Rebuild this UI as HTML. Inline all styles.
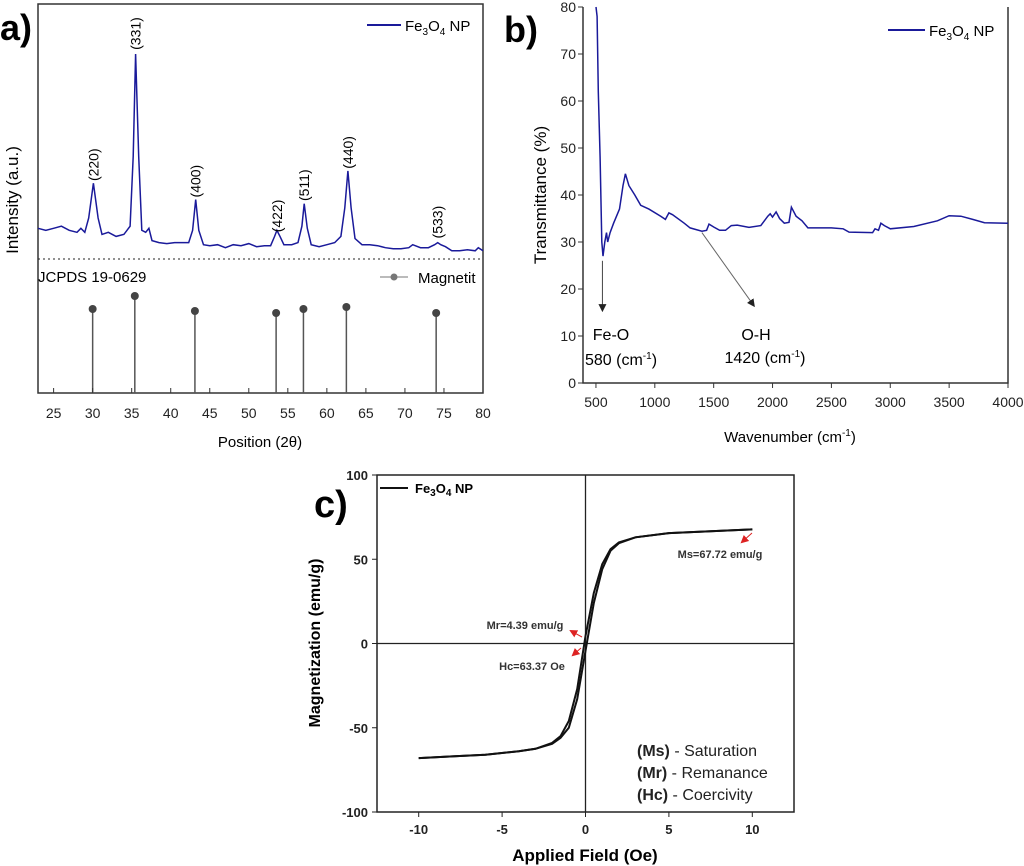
<!DOCTYPE html>
<html><head><meta charset="utf-8"><style>
html,body{margin:0;padding:0;background:#fff;}
svg{display:block;font-family:"Liberation Sans",Arial,sans-serif;}
</style></head><body>
<svg id="fig" width="1024" height="866" viewBox="0 0 1024 866">
<defs>
<marker id="ah" markerWidth="8" markerHeight="8" refX="6" refY="4" orient="auto"><path d="M0,0 L8,4 L0,8 z" fill="#222"/></marker>
<marker id="ahr" markerWidth="8" markerHeight="8" refX="6" refY="4" orient="auto"><path d="M0,0 L8,4 L0,8 z" fill="#d22"/></marker>
</defs>
<g id="pa"></g>
<g id="pb"></g>
<g id="pc"></g>
</svg>
<script>
// ---- Panel a data (XRD) ----
const xrdX=[23,24,25,26,27,28,28.5,29,29.5,30.1,30.7,31.2,32,33,34,34.8,35.2,35.5,35.9,36.3,36.8,37.2,37.6,38.5,39.5,40.5,41.5,42.3,42.8,43.2,43.6,44.2,45,46,47,48,49,50,51,52,52.8,53.3,53.6,54,54.5,55.5,56.3,56.8,57.1,57.5,58,59,60,61,61.8,62.3,62.7,63.1,63.6,64.5,65.5,66.5,67.5,68.5,69.5,70.5,71,72,73,73.8,74.2,74.6,75.2,76,77,78,79,79.4,80];
const xrdI=[15,14,15,16,14,13,15,13,20,37,20,12,13,11,12,16,50,100,50,14,13,15,9,8,7.5,8,8,8,14,29,14,7,6.5,7,5.5,7,6.5,7.5,6,6.5,6.5,11,14,11,7,7,8,16,27,15,7,6,7,8,11,25,43,25,10,7,7,6.5,5.5,5,5,5.5,7,5.5,5.5,7,8,7,6,4,4,4.5,4,5.5,4];
const hklPos=[30.1,35.5,43.2,53.6,57.1,62.7,74.2];
const hklLabels=["(220)","(331)","(400)","(422)","(511)","(440)","(533)"];
const hklLabelI=[46,110,38,21,36,52,18];
const refPos=[30,35.4,43.1,53.5,57,62.5,74];
const refI=[84,97,82,80,84,86,80];
const aXTicks=[25,30,35,40,45,50,55,60,65,70,75,80];
// ---- Panel b data (FTIR) ----
const ftX=[500,510,520,535,550,560,575,590,600,620,650,700,730,750,780,830,880,950,1050,1090,1120,1150,1250,1300,1400,1440,1460,1500,1550,1600,1650,1700,1800,1900,1960,1980,2000,2030,2060,2100,2140,2160,2200,2250,2300,2500,2600,2650,2850,2870,2900,2920,2950,3000,3200,3400,3500,3600,3700,3800,4000];
const ftT=[80,78,62,48,30,27,30,32,30,32,34,37,42,44.5,42,40,37.8,37,35.5,34.8,36.2,35.8,34,33,32.3,32.5,33.8,33.2,32.5,32.5,33.5,33.6,33.1,33.5,35.5,36,35.3,36.4,35,34,34.2,37.4,35.5,34.5,33,33,32.8,32.1,32,32.8,32.5,34,33.5,32.8,33.3,34.5,35.6,35.5,34.8,34.1,34];
const bXTicks=[500,1000,1500,2000,2500,3000,3500,4000];
const bYTicks=[0,10,20,30,40,50,60,70,80];
// ---- Panel c data (VSM hysteresis) ----
const hUp=[-10,-8,-6,-4,-3,-2,-1.5,-1,-0.5,0,0.5,1,1.5,2,3,5,8,10];
const mUp=[-68,-67,-66,-64,-62.5,-59,-55,-46,-27,4.4,30,47,56,60,63,65.5,66.8,67.7];
const hDn=[-10,-8,-6,-4,-3,-2,-1.5,-1,-0.5,0,0.5,1,1.5,2,3,5,8,10];
const mDn=[-68,-67,-66,-64,-62.5,-59.5,-56,-50,-33,-4.4,24,44,55,59.5,63,65.5,66.8,67.7];
const cXTicks=[-10,-5,0,5,10];
const cYTicks=[-100,-50,0,50,100];

const NS="http://www.w3.org/2000/svg";
function mk(parent,tag,attrs,text){const e=document.createElementNS(NS,tag);for(const k in attrs)e.setAttribute(k,attrs[k]);if(text!==undefined)e.textContent=text;parent.appendChild(e);return e;}
function lin(d0,d1,r0,r1){return v=>r0+(v-d0)*(r1-r0)/(d1-d0);}
function pathFrom(xs,ys,sx,sy){return xs.map((x,i)=>(i?'L':'M')+sx(x).toFixed(1)+','+sy(ys[i]).toFixed(1)).join(' ');}

// ===== Panel a =====
const A=document.getElementById('pa');
const ax=lin(23,80,38,483), ay=v=>259-v*2.05, ayRef=v=>393-v*1.0;
let t;
t=mk(A,'text',{x:0,y:40,'font-size':36,'font-weight':'bold'},'a)');

t=mk(A,'rect',{x:38,y:4,width:445,height:389,fill:'none',stroke:'#333','stroke-width':1.5});

t=mk(A,'line',{x1:38,y1:259,x2:483,y2:259,stroke:'#222','stroke-dasharray':'2,3'});

t=mk(A,'path',{d:pathFrom(xrdX,xrdI,ax,ay),fill:'none',stroke:'#1a1a9a','stroke-width':1.5});

hklPos.forEach((p,i)=>{const x=ax(p)+5,y=ay(hklLabelI[i]);
 const e=mk(A,'text',{x:x,y:y,'font-size':14,transform:`rotate(-90 ${x} ${y})`,'text-anchor':'middle'},hklLabels[i]);
 });
refPos.forEach((p,i)=>{
 const l=mk(A,'line',{x1:ax(p),y1:393,x2:ax(p),y2:ayRef(refI[i]),stroke:'#555','stroke-width':1.5});
 
 const c=mk(A,'circle',{cx:ax(p),cy:ayRef(refI[i]),r:4,fill:'#444'});
 });
aXTicks.forEach(v=>{mk(A,'line',{x1:ax(v),y1:393,x2:ax(v),y2:388,stroke:'#333'});
 const e=mk(A,'text',{x:ax(v),y:418,'font-size':14,'text-anchor':'middle',fill:'#222'},v);
 });
t=mk(A,'text',{x:260,y:447,'font-size':15,'text-anchor':'middle'},'Position (2θ)');

t=mk(A,'text',{x:18,y:200,'font-size':17,'text-anchor':'middle',transform:'rotate(-90 18 200)'},'Intensity (a.u.)');

t=mk(A,'text',{x:38,y:282,'font-size':15},'JCPDS 19-0629');

let lg=mk(A,'g',{});
mk(lg,'line',{x1:380,y1:277,x2:408,y2:277,stroke:'#777'});mk(lg,'circle',{cx:394,cy:277,r:3.5,fill:'#777'});
mk(lg,'text',{x:418,y:283,'font-size':15},'Magnetit');
lg=mk(A,'g',{});
mk(lg,'line',{x1:367,y1:25,x2:401,y2:25,stroke:'#1a1a9a','stroke-width':2});
t=mk(lg,'text',{x:405,y:31,'font-size':15});t.innerHTML='Fe<tspan font-size="10" dy="4">3</tspan><tspan dy="-4">O</tspan><tspan font-size="10" dy="4">4</tspan><tspan dy="-4"> NP</tspan>';

// ===== Panel b =====
const B=document.getElementById('pb');
const bx=lin(390,4000,583,1008), by=lin(0,80,383,7);
t=mk(B,'text',{x:504,y:42,'font-size':36,'font-weight':'bold'},'b)');

t=mk(B,'path',{d:'M583,7 L583,383 L1008,383 L1008,7',fill:'none',stroke:'#333','stroke-width':1.5});

t=mk(B,'path',{d:pathFrom(ftX,ftT,bx,by),fill:'none',stroke:'#1a1a9a','stroke-width':1.5});

bXTicks.forEach(v=>{mk(B,'line',{x1:bx(v),y1:383,x2:bx(v),y2:388,stroke:'#333'});
 const e=mk(B,'text',{x:bx(v),y:407,'font-size':14,'text-anchor':'middle',fill:'#222'},v);
 });
bYTicks.forEach(v=>{mk(B,'line',{x1:583,y1:by(v),x2:578,y2:by(v),stroke:'#333'});
 const e=mk(B,'text',{x:576,y:by(v)+5,'font-size':14,'text-anchor':'end',fill:'#222'},v);
 });
t=mk(B,'text',{x:790,y:442,'font-size':15,'text-anchor':'middle'});t.innerHTML='Wavenumber (cm<tspan font-size="10" dy="-6">-1</tspan><tspan dy="6">)</tspan>';

t=mk(B,'text',{x:546,y:195,'font-size':17,'text-anchor':'middle',transform:'rotate(-90 546 195)'},'Transmittance (%)');

t=mk(B,'line',{x1:bx(555),y1:by(26),x2:bx(555),y2:by(15.5),stroke:'#444','marker-end':'url(#ah)'});

t=mk(B,'line',{x1:bx(1400),y1:by(32),x2:bx(1840),y2:by(16.5),stroke:'#666','marker-end':'url(#ah)'});

t=mk(B,'text',{x:611,y:340,'font-size':16,'text-anchor':'middle'},'Fe-O');

t=mk(B,'text',{x:621,y:365,'font-size':16,'text-anchor':'middle'});t.innerHTML='580 (cm<tspan font-size="10" dy="-6">-1</tspan><tspan dy="6">)</tspan>';

t=mk(B,'text',{x:756,y:340,'font-size':16,'text-anchor':'middle'},'O-H');

t=mk(B,'text',{x:765,y:363,'font-size':16,'text-anchor':'middle'});t.innerHTML='1420 (cm<tspan font-size="10" dy="-6">-1</tspan><tspan dy="6">)</tspan>';

lg=mk(B,'g',{});
mk(lg,'line',{x1:888,y1:30,x2:925,y2:30,stroke:'#1a1a9a','stroke-width':2});
t=mk(lg,'text',{x:929,y:36,'font-size':15});t.innerHTML='Fe<tspan font-size="10" dy="4">3</tspan><tspan dy="-4">O</tspan><tspan font-size="10" dy="4">4</tspan><tspan dy="-4"> NP</tspan>';

// ===== Panel c =====
const C=document.getElementById('pc');
const cx=lin(-12.5,12.5,377,794), cy=lin(-100,100,812,475);
t=mk(C,'rect',{x:377,y:475,width:417,height:337,fill:'none',stroke:'#222','stroke-width':1.5});

mk(C,'line',{x1:377,y1:cy(0),x2:794,y2:cy(0),stroke:'#222','stroke-width':1.3});
mk(C,'line',{x1:cx(0),y1:475,x2:cx(0),y2:812,stroke:'#222','stroke-width':1.3});
t=mk(C,'text',{x:314,y:517,'font-size':38,'font-weight':'bold'},'c)');

t=mk(C,'path',{d:pathFrom(hUp,mUp,cx,cy),fill:'none',stroke:'#111','stroke-width':2});

t=mk(C,'path',{d:pathFrom(hDn,mDn,cx,cy),fill:'none',stroke:'#111','stroke-width':2});

cXTicks.forEach(v=>{mk(C,'line',{x1:cx(v),y1:812,x2:cx(v),y2:817,stroke:'#222'});
 const e=mk(C,'text',{x:cx(v),y:834,'font-size':13,'font-weight':'bold','text-anchor':'middle',fill:'#222'},v);
 });
cYTicks.forEach(v=>{mk(C,'line',{x1:377,y1:cy(v),x2:372,y2:cy(v),stroke:'#222'});
 const e=mk(C,'text',{x:368,y:cy(v)+5,'font-size':13,'font-weight':'bold','text-anchor':'end',fill:'#222'},v);
 });
t=mk(C,'text',{x:585,y:861,'font-size':17,'font-weight':'bold','text-anchor':'middle'},'Applied Field (Oe)');

t=mk(C,'text',{x:320,y:643,'font-size':16,'font-weight':'bold','text-anchor':'middle',transform:'rotate(-90 320 643)'},'Magnetization (emu/g)');

t=mk(C,'line',{x1:752,y1:533,x2:742,y2:542,stroke:'#d22','marker-end':'url(#ahr)'});
mk(C,'text',{x:720,y:558,'font-size':11,'font-weight':'bold','text-anchor':'middle',fill:'#333'},'Ms=67.72 emu/g');
mk(C,'line',{x1:582,y1:637,x2:571,y2:631,stroke:'#d22','marker-end':'url(#ahr)'});
mk(C,'text',{x:525,y:629,'font-size':11,'font-weight':'bold','text-anchor':'middle',fill:'#333'},'Mr=4.39 emu/g');
mk(C,'line',{x1:581,y1:648,x2:573,y2:655,stroke:'#d22','marker-end':'url(#ahr)'});
mk(C,'text',{x:532,y:670,'font-size':11,'font-weight':'bold','text-anchor':'middle',fill:'#333'},'Hc=63.37 Oe');
lg=mk(C,'g',{});
mk(lg,'line',{x1:380,y1:488,x2:408,y2:488,stroke:'#111','stroke-width':2});
t=mk(lg,'text',{x:415,y:493,'font-size':13,'font-weight':'bold'});t.innerHTML='Fe<tspan font-size="10" dy="3">3</tspan><tspan dy="-3">O</tspan><tspan font-size="10" dy="3">4</tspan><tspan dy="-3"> NP</tspan>';
const defs=[['(Ms)',' - Saturation',756],['(Mr)','  - Remanance',778],['(Hc)','  - Coercivity',800]];
defs.forEach(d=>{const e=mk(C,'text',{x:637,y:d[2],'font-size':16,fill:'#222','xml:space':'preserve'});
 e.innerHTML='<tspan font-weight="bold">'+d[0]+'</tspan>'+d[1];
 });
</script>
</body></html>
